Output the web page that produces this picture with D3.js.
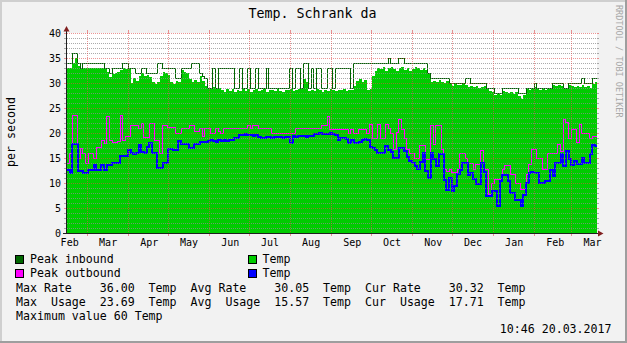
<!DOCTYPE html>
<html><head><meta charset="utf-8">
<script src="https://cdn.jsdelivr.net/npm/d3@7"></script>
<style>
body{margin:0;background:#f2f2f2}
svg{display:block}
text{font-family:"DejaVu Sans Mono",monospace;white-space:pre}
</style>
</head><body><svg id="c" width="627" height="343"></svg>
<script>
// ---- data (one value per 2-day bucket, starting 15 Feb 2016) ----
const startDate = Date.UTC(2016,1,15);
const endDate = Date.UTC(2017,2,20,10,46);
const bucketDays = 2;

const peakIn = [
 34,34,36,36,34,33,34,34,34,34, 34,34,34,34,33,33,32,33,33,33,
 33,34,34,33,33,33,32,32,33,33, 32,32,32,32,34,34,33,33,33,33,
 33,31,31,33,33,33,33,34,34,34, 32,31.5,31,29,29,33,29,33,33,33,
 33,33,33,29,29,33,29,29,33,29, 29,33,29,29,29,33,29,29,29,29,
 29,29,29,29,33,29,33,33,29,34, 34,29,33,29,33,33,29,29,33,33,
 29,33,33,33,33,33,33,29,34,34, 34,34,34,34,34,34,34,34,34,34,
 34,35,34,34,34,35,35,34,34,34, 34,34,34,34,34,34,32,31,31,31,
 31,31,31,31,30,30,30,30,30,30, 31,31,30,30,30,30,30,30,29,29,
 29,28,28,28,29,29,29,29,29,29, 28,28,28,29,29,29,30,29,29,29,
 29,29,29,30,30,30,30,29,29,30, 30,30,30,30,31,30,30,30,31,31];

const avgIn = [
 33,33,34,35,33.5,32.8,33,33,33,33, 33,33,33,33,32.8,32.3,31.3,31.8,32,32.2,
 32.6,33,32.8,32.8,30,31,30.5,31.5,32,31.5, 31.7,31.3,30.2,29.8,30.3,31.5,32.2,32,31.7,30.3,
 29.8,30.5,30.3,32.6,32.3,32,30.8,30.2,30.6,30.3, 31.5,30.5,29.5,28.8,28.8,29.2,28.9,29,28.7,28.2,
 28.8,28.5,28.9,28.3,28.7,28.5,28.8,28.5,28.8,28.3, 28.7,28.9,28.4,28.6,28.8,28.2,28.6,28.7,28.4,28.8,
 28.5,28.3,28.7,28.6,28.9,28.4,28.6,28.8,28.8,30.8, 30.2,28.5,28.7,28.4,28.8,28.6,28.3,28.7,28.5,28.8,
 28.6,28.4,28.7,28.6,28.9,28.5,28.7,28.6,29.5,30.5, 30.8,30.3,30.6,28.7,28.8,31.5,32.5,33,32.8,33.2,
 32.5,33,33.3,32.8,32.5,33,33.2,32.7,33,32.5, 32.8,33.2,33,32.6,33,32.7,31.8,30.3,30.5,30.2,
 30.6,30.3,30,30.4,29.8,29.5,29.9,29.6,29.7,29.8, 29.6,29.3,29.5,29.2,29.4,29.1,29.3,29.5,28.8,28.5,
 28.2,27.6,27.8,27.7,28.5,28.2,28,28.3,27.8,28.2, 27.5,26.8,27.6,28.8,28.7,28.9,29.2,28.9,28.7,28.9,
 28.6,28.8,28.8,29.6,29.4,29.7,29.5,28.9,28.8,29.6, 29.4,29.2,29.5,29.3,29.6,29.2,29.4,29.1,29.8,30.3];

const peakOut = [
 14,16,23.6,23.6,15,17,16,14,16,16, 15,17.3,17.3,18.6,18,23.3,18.6,18.3,18.3,18.5,
 23.6,18.6,19.5,19.5,21.6,21.6,21.6,21,22,19.3, 19.3,22,22,18.6,18.6,16,21.6,21.6,21.3,21.3,
 21.3,20,20,21,21,21,21.6,21.6,20.5,20.5, 21,19.5,21,21,20,20,21,20.5,20,21,
 21,21,21,21,21,21,21,21,21.6,21, 21.6,21.6,21,21,21,21,21,20,20,20,
 20,20,20,20,20,20,21,21,21,21, 21,21,21,21,21,21,21.6,21.6,23.3,20.8,
 20.8,20.8,20.8,20.9,20.9,20.9,20,20.9,20,20, 20.9,20.9,20.9,20,21.9,19,19,21.9,19,19,
 21.9,21,20,16.9,20.3,22.9,20.9,19,16.9,16, 16,15,15,17.6,17.6,14.8,14.8,21.6,17.9,21.6,
 21.6,16.9,12.9,12.5,12.9,12.3,12.3,12.9,16,16, 15,14,14,12.9,13.9,13.9,16.6,12.9,12.9,7.9,
 9.9,10.9,10.9,10.9,12.9,13.6,13.6,11.9,11.9,9.9, 9.9,8.9,8.9,11.9,13.9,16.9,16.9,15,15,12.9,
 12.9,16,16,16,16,17.9,16.5,22.9,22.3,19, 20.9,20.9,18.3,21.9,20,20,20,19,19.5,19.5];

const avgOut = [
 12.9,12.3,18,18,12.6,12.6,12.3,12.3,12.9,12.9, 13.9,12.9,12.9,13.9,12.9,13.9,13.9,14.3,14.3,14.3,
 15.6,15.6,15.6,16.8,16.1,16,16.2,17.8,16.5,16.3, 17.5,18.3,16.3,16.3,13.3,13.3,14.3,14.3,17,17,
 16.9,16.9,18.6,18,18,18,17.3,17.3,18,18, 18.5,18.5,18.5,18.6,18.8,18.7,18.5,18.8,18.7,18.9,
 18.7,18.8,18.9,19.2,19.2,19.9,19.8,20,19.8,19.9, 19.7,19.8,19.5,19.3,19.3,19.4,19.5,19.3,19.4,19.4,
 19.5,19.3,19.4,19.4,18.3,19.6,19.5,19.7,19.6,19.6, 19.5,19.7,19.6,20.1,20,20.2,20.1,20.1,20,20.2,
 20.1,19.9,18.9,19.2,19.3,19.1,18.3,18.8,18.3,18.2, 18.4,18.9,19,18.9,17.5,17.2,16.8,16.3,16.3,16.3,
 17.6,16.9,16.5,15.3,15.3,17.2,17.2,16.6,15.5,14.6, 14.2,13.5,13,14.5,16.3,12.6,11.3,16.3,15,13.6,
 16,16,10.9,8.9,11.3,8.6,9.6,12,12.9,14.3, 14.3,11.9,12.3,11,9.9,9.9,14.3,12.5,7.6,7.6,
 8.6,8.6,5.6,10.6,11.9,11.9,10.6,8.3,8.3,6.9, 6.9,5.6,7.9,10.3,12.3,12.5,12.2,12.3,10.3,10.3,
 10.6,10.6,12.9,11.6,14.3,14.3,16,13.6,16.6,15, 13.9,14.6,14,14,15.3,14.3,14.3,16,17.9,17.7];

const yTickValues = [0,5,10,15,20,25,30,35,40];
const monthLabels = ["Feb","Mar","Apr","May","Jun","Jul","Aug","Sep","Oct","Nov","Dec","Jan","Feb","Mar"];
const title = "Temp. Schrank da";
const yTitle = "per second";
const legendItems = [
  {label:"Peak inbound", color:"#006600", col:0, row:0},
  {label:"Temp", color:"#00cc00", col:1, row:0},
  {label:"Peak outbound", color:"#ff00ff", col:0, row:1},
  {label:"Temp", color:"#0000ff", col:1, row:1}
];
const statLines = [
  "Max Rate    36.00  Temp  Avg Rate    30.05  Temp  Cur Rate    30.32  Temp",
  "Max  Usage  23.69  Temp  Avg  Usage  15.57  Temp  Cur  Usage  17.71  Temp",
  "Maximum value 60 Temp"
];
const stamp = "10:46 20.03.2017";
const watermark = "RRDTOOL / TOBI OETIKER";

// ---- drawing ----
const W = 627, H = 343;
const svg = d3.select("#c");
const x = d3.scaleUtc().domain([startDate, endDate]).range([67, 597]);
const y = d3.scaleLinear().domain([0, 40]).range([233, 33]);

svg.append("rect").attr("width",W).attr("height",H).attr("fill","#f2f2f2");
// 3D frame
svg.append("rect").attr("x",0).attr("y",0).attr("width",W).attr("height",2).attr("fill","#cfcfcf");
svg.append("rect").attr("x",0).attr("y",0).attr("width",2).attr("height",H).attr("fill","#cfcfcf");
svg.append("rect").attr("x",0).attr("y",H-2).attr("width",W).attr("height",2).attr("fill","#9e9e9e");
svg.append("rect").attr("x",W-2).attr("y",0).attr("width",2).attr("height",H).attr("fill","#9e9e9e");

// canvas
svg.append("rect").attr("x",67).attr("y",33).attr("width",530).attr("height",200).attr("fill","#ffffff");

function pts(arr){
  const p = arr.map((v,i)=>({t: startDate + i*bucketDays*864e5, v}));
  p.push({t: endDate, v: arr[arr.length-1]});
  return p;
}
const g = svg.append("g");
g.append("path").datum(pts(avgIn))
  .attr("d", d3.area().curve(d3.curveStepAfter).x(d=>x(d.t)).y0(y(0)).y1(d=>y(d.v)))
  .attr("fill","#00cc00").attr("shape-rendering","crispEdges");
const line = d3.line().curve(d3.curveStepAfter).x(d=>x(d.t)).y(d=>Math.round(y(d.v))+0.5);
g.append("path").datum(pts(peakIn)).attr("d",line).attr("fill","none").attr("stroke","#006600").attr("stroke-width",1).attr("shape-rendering","crispEdges");
g.append("path").datum(pts(peakOut)).attr("d",line).attr("fill","none").attr("stroke","#ff00ff").attr("stroke-width",1).attr("shape-rendering","crispEdges");
g.append("path").datum(pts(avgOut)).attr("d",line).attr("fill","none").attr("stroke","#0000ff").attr("stroke-width",2).attr("shape-rendering","crispEdges");

// grid
const minorCol = "rgba(143,143,143,0.75)", majorCol = "rgba(222,79,79,0.6)";
const minorVals = d3.range(1,40).filter(v=>v%5!==0);
const grid = svg.append("g").attr("shape-rendering","crispEdges");
minorVals.forEach(v=>{
  const yy = Math.round(y(v))+0.5;
  grid.append("line").attr("x1",67).attr("x2",597).attr("y1",yy).attr("y2",yy)
    .attr("stroke",minorCol).attr("stroke-dasharray","1,1");
  grid.append("line").attr("x1",64).attr("x2",66).attr("y1",yy).attr("y2",yy).attr("stroke",minorCol);
  grid.append("line").attr("x1",597).attr("x2",599).attr("y1",yy).attr("y2",yy).attr("stroke",minorCol);
});
yTickValues.forEach(v=>{
  const yy = Math.round(y(v))+0.5;
  grid.append("line").attr("x1",67).attr("x2",597).attr("y1",yy).attr("y2",yy)
    .attr("stroke",majorCol).attr("stroke-dasharray","1,1");
  grid.append("line").attr("x1",64).attr("x2",66).attr("y1",yy).attr("y2",yy).attr("stroke",majorCol);
  grid.append("line").attr("x1",597).attr("x2",599).attr("y1",yy).attr("y2",yy).attr("stroke",majorCol);
});
const months = d3.utcMonth.range(Date.UTC(2016,1,1), Date.UTC(2017,3,1));
months.forEach(m=>{
  if (+m <= startDate || +m >= endDate) return;
  const xx = Math.round(x(m))+0.5;
  grid.append("line").attr("x1",xx).attr("x2",xx).attr("y1",33).attr("y2",233)
    .attr("stroke",majorCol).attr("stroke-dasharray","1,1");
  grid.append("line").attr("x1",xx).attr("x2",xx).attr("y1",233).attr("y2",236).attr("stroke",majorCol);
  grid.append("line").attr("x1",xx).attr("x2",xx).attr("y1",30).attr("y2",33).attr("stroke",majorCol);
});

// axes
const ax = svg.append("g").attr("shape-rendering","crispEdges");
ax.append("line").attr("x1",66.5).attr("x2",66.5).attr("y1",234).attr("y2",30).attr("stroke","#1f1f1f");
ax.append("line").attr("x1",63).attr("x2",599).attr("y1",233.5).attr("y2",233.5).attr("stroke","#1f1f1f");
svg.append("path").attr("d","M63.5,31.5L69.5,31.5L66.5,26Z").attr("fill","#801f1f");
svg.append("path").attr("d","M598,230.5L598,236.5L603.5,233.5Z").attr("fill","#801f1f");

// y labels
svg.append("g").selectAll("text").data(yTickValues).join("text")
  .attr("x",61).attr("y",v=>y(v)+3.7).attr("text-anchor","end")
  .attr("font-size","10px").attr("fill","#000").text(v=>v);
// x labels
svg.append("g").selectAll("text").data(months).join("text")
  .attr("x",(m)=>x(+m + 16*864e5)).attr("y",245.5).attr("text-anchor","middle")
  .attr("font-size","10px").attr("fill","#000").text((m,i)=>monthLabels[i]);

// title
svg.append("text").attr("x",312.5).attr("y",18.3).attr("text-anchor","middle")
  .attr("font-size","13.3px").attr("fill","#000").text(title);
// y title
svg.append("text").attr("transform","translate(15,132) rotate(-90)").attr("text-anchor","middle")
  .attr("font-size","11.6px").attr("fill","#000").text(yTitle);
// watermark
svg.append("text").attr("transform","translate(615.5,5) rotate(90)")
  .attr("font-size","8.5px").attr("fill","#a8a8a8").text(watermark);

// legend
const lg = svg.append("g");
const colX = [15.5, 248.5], txtX = [30, 262.5], rowY = [263.3, 277.3];
legendItems.forEach(d=>{
  lg.append("rect").attr("x",colX[d.col]).attr("y",rowY[d.row]-7.8).attr("width",8).attr("height",8)
    .attr("fill",d.color).attr("stroke","#000").attr("stroke-width",1);
  lg.append("text").attr("x",txtX[d.col]).attr("y",rowY[d.row]).attr("font-size","11.6px").attr("fill","#000").text(d.label);
});
statLines.forEach((s,i)=>{
  lg.append("text").attr("x",16).attr("y",291.5+14.1*i).attr("font-size","11.6px").attr("fill","#000").text(s);
});
lg.append("text").attr("x",611.5).attr("y",333.4).attr("text-anchor","end").attr("font-size","11.6px").attr("fill","#000").text(stamp);
</script>
</body></html>
